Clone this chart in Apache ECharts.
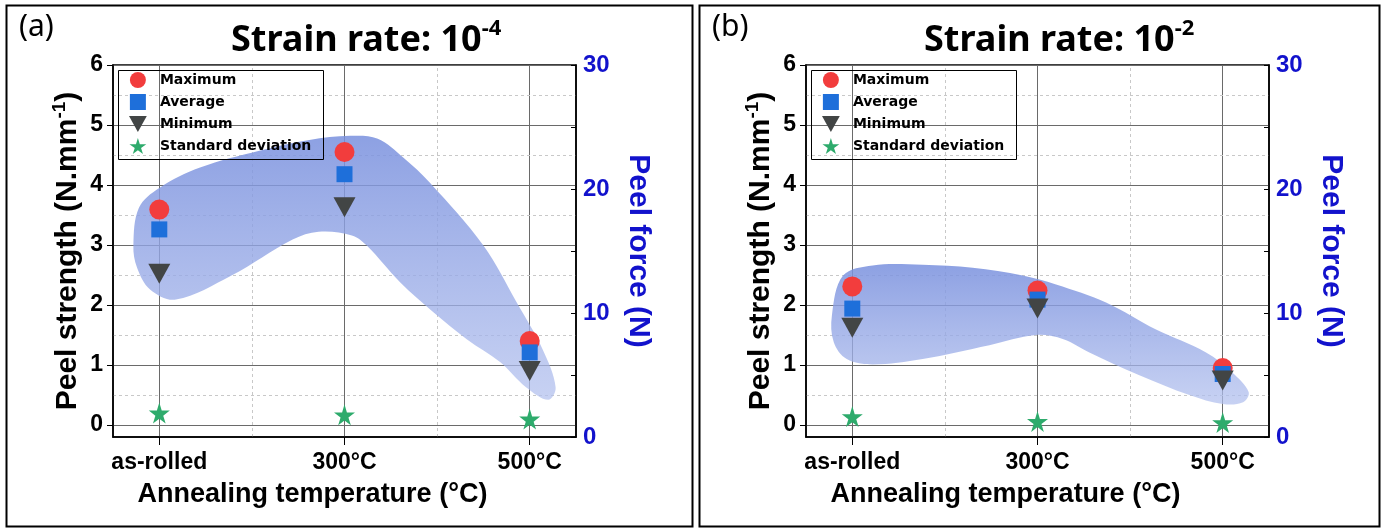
<!DOCTYPE html>
<html><head><meta charset="utf-8">
<script src="https://cdn.jsdelivr.net/npm/echarts@6/dist/echarts.min.js"></script>
<style>html,body{margin:0;padding:0;background:#fff}#c{width:1386px;height:528px}</style>
</head><body><div id="c"></div>
<script>
// ---------- data ----------
const categories = ['as-rolled', '300°C', '500°C'];
const catPos = [0, 1, 2];
const leftTicks = [0, 1, 2, 3, 4, 5, 6];
const rightTicks = [0, 10, 20, 30];
const minorX = [0.5, 1.5];
const minorY = [0.5, 1.5, 2.5, 3.5, 4.5, 5.5];
const seriesNames = ['Maximum', 'Average', 'Minimum', 'Standard deviation'];

// Panel (a) strain rate 10^-4
const maxA = [3.59, 4.55, 1.40];
const avgA = [3.26, 4.18, 1.21];
const minA = [2.52, 3.63, 0.90];
const stdA = [0.20, 0.17, 0.10];
// Panel (b) strain rate 10^-2
const maxB = [2.31, 2.24, 0.95];
const avgB = [1.94, 2.09, 0.85];
const minB = [1.62, 1.94, 0.74];
const stdB = [0.14, 0.06, 0.04];

// shaded trend bands (x in category units, y in N/mm)
const blobA = [
  [-0.14, 2.99], [-0.11, 3.62], [0.0, 3.95], [0.22, 4.29], [0.54, 4.57], [0.81, 4.75],
  [1.03, 4.82], [1.18, 4.77], [1.32, 4.45], [1.46, 4.04], [1.75, 2.99], [1.93, 2.04],
  [2.07, 1.26], [2.14, 0.63], [2.10, 0.42], [1.98, 0.63], [1.84, 1.05], [1.66, 1.43],
  [1.48, 1.88], [1.30, 2.38], [1.12, 2.99], [1.04, 3.16], [0.86, 3.22], [0.72, 3.09],
  [0.39, 2.49], [0.09, 2.09], [-0.05, 2.26], [-0.12, 2.62]
];
const blobB = [
  [-0.11, 1.83], [-0.05, 2.49], [0.11, 2.66], [0.38, 2.67], [0.65, 2.62], [0.92, 2.49],
  [1.10, 2.34], [1.37, 2.04], [1.64, 1.59], [1.91, 1.21], [2.05, 0.88], [2.14, 0.55],
  [2.11, 0.38], [2.00, 0.35], [1.82, 0.50], [1.55, 0.83], [1.28, 1.21], [1.14, 1.43],
  [0.99, 1.50], [0.74, 1.33], [0.38, 1.10], [0.11, 1.01], [-0.03, 1.10], [-0.10, 1.38]
];

// ---------- styling ----------
const FONT = "'Liberation Sans', Arial, sans-serif";
const BLUE = '#1212cc';
const GRID_W = 463, GRID_H = 372, GRID_TOP = 65;
const gridLefts = [113, 806];
const STAR = 'path://M50,0 L61,35 L98,35 L68,57 L79,91 L50,70 L21,91 L32,57 L2,35 L39,35 Z';
const DTRI = 'path://M0,0 L100,0 L50,90 Z';
const SQR = 'path://M0,0 L100,0 L100,100 L0,100 Z';
const symbols = ['circle', SQR, DTRI, STAR];
const sizes = [20, 16, [22, 20], 21];
const colors = ['#f23d3d', '#1e6fda', '#424545', '#2eab6c'];

const blobFill = {
  type: 'linear', x: 0, y: 0, x2: 0, y2: 1,
  colorStops: [
    { offset: 0, color: 'rgba(122,145,222,0.86)' },
    { offset: 1, color: 'rgba(178,192,238,0.72)' }
  ]
};

function zip(vals) { return catPos.map((c, i) => [c, vals[i]]); }

const grids = [], xAxes = [], yAxes = [], series = [], legends = [], titles = [], graphics = [];
const panels = [
  { vals: [maxA, avgA, minA, stdA], blob: blobA, label: '(a)', exp: '-4' },
  { vals: [maxB, avgB, minB, stdB], blob: blobB, label: '(b)', exp: '-2' }
];

panels.forEach((p, k) => {
  const gl = gridLefts[k];
  const off = k * 693;
  grids.push({ left: gl, top: GRID_TOP, width: GRID_W, height: GRID_H, show: true,
    borderColor: '#000', borderWidth: 1.5, backgroundColor: 'transparent' });
  xAxes.push({
    type: 'value', gridIndex: k, min: -0.25, max: 2.25,
    name: 'Annealing temperature (°C)', nameLocation: 'middle', nameGap: 44,
    nameTextStyle: { fontFamily: FONT, fontWeight: 'bold', fontSize: 27, color: '#000', padding: [0, 64, 0, 0] },
    axisLine: { onZero: false, lineStyle: { color: '#000', width: 1.5 } },
    axisTick: { customValues: catPos, length: 8, lineStyle: { color: '#000' } },
    axisLabel: { customValues: catPos, margin: 14, fontFamily: FONT, fontWeight: 'bold', fontSize: 23, color: '#000',
      formatter: v => categories[catPos.indexOf(v)] },
    splitLine: { show: true, lineStyle: { color: '#6a6a6a', width: 1 } }
  });
  yAxes.push({
    type: 'value', gridIndex: k, min: -0.2, max: 6, position: 'left',
    name: '{a|Peel strength (N.mm}{s|-1}{a|)}', nameLocation: 'middle', nameGap: 27, nameRotate: 90,
    nameTextStyle: { rich: {
      a: { fontFamily: FONT, fontWeight: 'bold', fontSize: 30, color: '#000', lineHeight: 36 },
      s: { fontFamily: FONT, fontWeight: 'bold', fontSize: 19, color: '#000', lineHeight: 36, verticalAlign: 'top', padding: [0, 0, 12, 0] }
    } },
    axisLine: { show: true, onZero: false, lineStyle: { color: '#000', width: 1.5 } },
    axisTick: { show: true, customValues: leftTicks, length: 6, lineStyle: { color: '#000' } },
    axisLabel: { customValues: leftTicks, margin: 10, fontFamily: FONT, fontWeight: 'bold', fontSize: 23, color: '#000' },
    splitLine: { show: true, lineStyle: { color: '#6a6a6a', width: 1 } }
  });
  yAxes.push({
    type: 'value', gridIndex: k, min: 0, max: 30, interval: 5, position: 'right',
    name: 'Peel force (N)', nameLocation: 'middle', nameGap: 47, nameRotate: -90,
    nameTextStyle: { fontFamily: FONT, fontWeight: 'bold', fontSize: 30, color: BLUE },
    axisLine: { show: true, onZero: false, lineStyle: { color: '#000', width: 1.5 } },
    axisTick: { show: true, inside: true, length: 5, lineStyle: { color: '#000' } },
    axisLabel: { customValues: rightTicks, margin: 7, fontFamily: FONT, fontWeight: 'bold', fontSize: 24, color: BLUE },
    splitLine: { show: false }
  });

  const yLeft = k * 2;
  series.push({
    type: 'custom', name: 'band' + k, xAxisIndex: k, yAxisIndex: yLeft, z: 1, silent: true,
    data: p.blob, encode: { x: 0, y: 1 },
    renderItem: (params, api) => {
      if (params.dataIndex !== 0) return null;
      const pts = p.blob.map(q => api.coord(q));
      return { type: 'polygon', shape: { points: pts, smooth: 0.35 }, style: { fill: blobFill } };
    },
    markLine: {
      silent: true, symbol: 'none', z: 0, label: { show: false },
      lineStyle: { type: [3, 3], color: '#c8c8c8', width: 1 },
      data: minorX.map(v => ({ xAxis: v })).concat(minorY.map(v => ({ yAxis: v })))
    }
  });
  p.vals.forEach((v, i) => {
    series.push({
      type: 'scatter', name: seriesNames[i], xAxisIndex: k, yAxisIndex: yLeft, z: 3 + i,
      symbol: symbols[i], symbolSize: sizes[i], itemStyle: { color: colors[i], opacity: 1 },
      data: zip(v)
    });
  });

  legends.push({
    data: seriesNames, orient: 'vertical', left: 129 + off, top: 72, padding: 0,
    itemWidth: 34, itemHeight: 16, itemGap: 6, selectedMode: false,
    textStyle: { fontFamily: "'DejaVu Sans', sans-serif", fontWeight: 'bold', fontSize: 14, color: '#000' }
  });
  titles.push({
    text: '{m|Strain rate: 10}{s|' + p.exp + '}', left: 231 + off, top: 18, padding: 0,
    textStyle: { rich: {
      m: { fontFamily: "'Noto Sans', sans-serif", fontWeight: 'bold', fontSize: 36, color: '#000', lineHeight: 46 },
      s: { fontFamily: "'Noto Sans', sans-serif", fontWeight: 'bold', fontSize: 22, color: '#000', lineHeight: 46, verticalAlign: 'top', padding: [0, 0, 18, 0] }
    } }
  });
  titles.push({
    text: p.label, left: 19 + off, top: 12, padding: 0,
    textStyle: { fontFamily: "'Noto Sans', sans-serif", fontWeight: 'normal', fontSize: 30, color: '#000' }
  });
  graphics.push({ type: 'rect', left: 4 + off, top: 3, z: 10, silent: true,
    shape: { width: k === 0 ? 686 : 680, height: 521 },
    style: { fill: 'none', stroke: '#000', lineWidth: 2 } });
  graphics.push({ type: 'rect', left: 116 + off, top: 68, z: 10, silent: true,
    shape: { width: 205, height: 89 },
    style: { fill: 'none', stroke: '#000', lineWidth: 1 } });
});

const chart = echarts.init(document.getElementById('c'), null, { renderer: 'canvas' });
chart.setOption({
  animation: false,
  backgroundColor: '#fff',
  title: titles,
  legend: legends,
  grid: grids,
  xAxis: xAxes,
  yAxis: yAxes,
  series: series,
  graphic: graphics
});
</script></body></html>
